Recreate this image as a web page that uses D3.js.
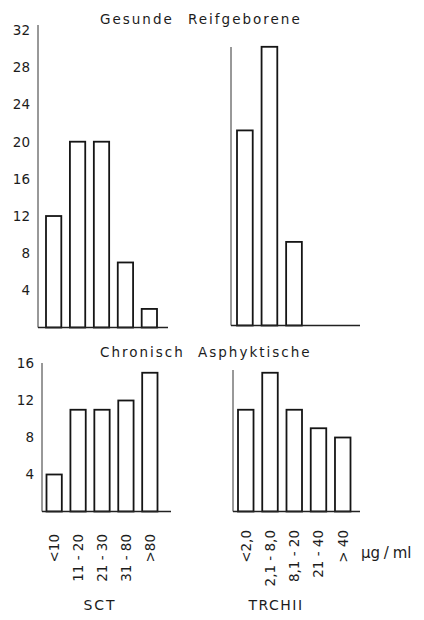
<!DOCTYPE html>
<html>
<head>
<meta charset="utf-8">
<script src="https://cdn.jsdelivr.net/npm/d3@7"></script>
<style>
  body { margin: 0; background: #fff; }
  svg text { font-family: "DejaVu Sans", sans-serif; fill: #1c1c1c; }
</style>
</head>
<body>
<div id="chart"></div>
<script>
var sctCats = ["<10", "11 - 20", "21 - 30", "31 - 80", ">80"];
var trchCats = ["<2,0", "2,1 - 8,0", "8,1 - 20", "21 - 40", "> 40"];

var gesundeSCT = [12, 20, 20, 7, 2];
var gesundeTRCH = [21, 30, 9, 0, 0];
var asphySCT = [4, 11, 11, 12, 15];
var asphyTRCH = [11, 15, 11, 9, 8];

var topTicks = [4, 8, 12, 16, 20, 24, 28, 32];
var bottomTicks = [4, 8, 12, 16];

var width = 424, height = 620;

var svg = d3.select("#chart")
    .append("svg")
    .attr("width", width)
    .attr("height", height);

// one panel = one little histogram
function panel(cats, values, o) {
    var x = d3.scaleBand()
        .domain(cats)
        .range([o.barL, o.barR])
        .paddingInner(0.36)
        .paddingOuter(0);

    var y = d3.scaleLinear()
        .domain([0, o.max])
        .range([o.base, o.base - o.max * o.unit]);

    var g = svg.append("g");

    // vertical axis line
    g.append("line")
        .attr("x1", o.axisX).attr("x2", o.axisX)
        .attr("y1", o.axisTop).attr("y2", o.base)
        .attr("stroke", "#333")
        .attr("stroke-width", 1);

    if (o.ticks) {
        var ax = g.append("g")
            .attr("transform", "translate(" + o.axisX + ",0)")
            .call(d3.axisLeft(y).tickValues(o.ticks).tickSize(0).tickPadding(8));
        ax.select(".domain").remove();
        ax.selectAll("text")
            .style("font-size", "13.5px")
            .attr("font-family", null);
    }

    g.selectAll("rect")
        .data(values.map(function (v, i) { return { cat: cats[i], v: v }; })
            .filter(function (d) { return d.v > 0; }))
        .enter()
        .append("rect")
        .attr("x", function (d) { return x(d.cat); })
        .attr("y", function (d) { return y(d.v); })
        .attr("width", x.bandwidth())
        .attr("height", function (d) { return o.base - y(d.v); })
        .attr("fill", "#fff")
        .attr("stroke", "#151515")
        .attr("stroke-width", 1.8);

    // baseline
    g.append("line")
        .attr("x1", o.axisX).attr("x2", o.baseEnd)
        .attr("y1", o.base).attr("y2", o.base)
        .attr("stroke", "#222")
        .attr("stroke-width", 1.6);

    if (o.labelY) {
        g.selectAll(".xl")
            .data(cats)
            .enter()
            .append("text")
            .attr("class", "xl")
            .attr("transform", function (d) {
                return "translate(" + (x(d) + x.bandwidth() / 2) + "," + o.labelY + ") rotate(-90)";
            })
            .attr("dy", "0.36em")
            .attr("text-anchor", "end")
            .style("font-size", "13.5px")
            .text(function (d) { return d; });
    }
}

panel(sctCats, gesundeSCT, {
    axisX: 38, axisTop: 25, base: 327.5, baseEnd: 168,
    barL: 46, barR: 157, max: 32, unit: 9.29, ticks: topTicks
});
panel(trchCats, gesundeTRCH, {
    axisX: 231, axisTop: 47, base: 325.5, baseEnd: 360,
    barL: 237, barR: 351, max: 32, unit: 9.29
});
panel(sctCats, asphySCT, {
    axisX: 42, axisTop: 363, base: 511.5, baseEnd: 171,
    barL: 46.5, barR: 157.5, max: 16, unit: 9.25, ticks: bottomTicks, labelY: 534
});
panel(trchCats, asphyTRCH, {
    axisX: 233, axisTop: 370, base: 511.5, baseEnd: 360,
    barL: 238, barR: 350.5, max: 16, unit: 9.25, labelY: 530
});

// titles
function title(a, b, xa, xb, yy) {
    svg.append("text").attr("x", xa).attr("y", yy)
        .style("font-size", "13.5px").style("letter-spacing", "2px").text(a);
    svg.append("text").attr("x", xb).attr("y", yy)
        .style("font-size", "13.5px").style("letter-spacing", "2px").text(b);
}
title("Gesunde", "Reifgeborene", 100, 188, 23.5);
title("Chronisch", "Asphyktische", 100, 198, 357);

svg.append("text").attr("x", 100).attr("y", 610)
    .attr("text-anchor", "middle")
    .style("font-size", "14px").style("letter-spacing", "2px")
    .text("SCT");
svg.append("text").attr("x", 276).attr("y", 610)
    .attr("text-anchor", "middle")
    .style("font-size", "14px").style("letter-spacing", "1.5px")
    .text("TRCHII");
svg.append("text").attr("x", 361).attr("y", 558)
    .style("font-size", "15px")
    .style("word-spacing", "-1px")
    .text("µg / ml");
</script>
</body>
</html>
